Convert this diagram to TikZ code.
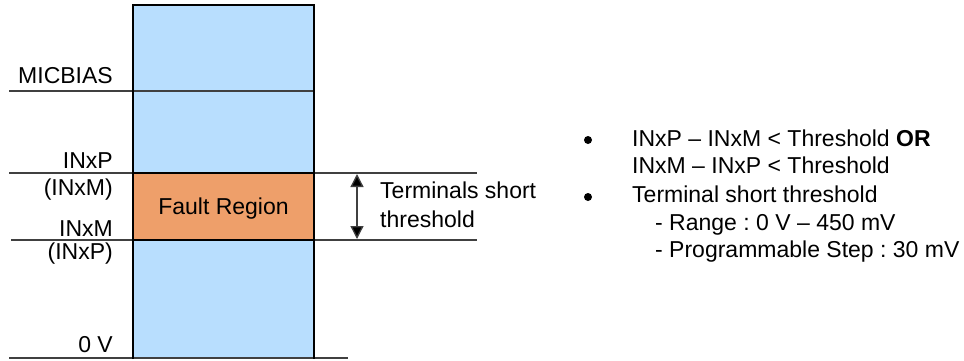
\documentclass[tikz,border=0pt]{standalone}
\usepackage{fontspec}
\setmainfont{Liberation Sans}
\usetikzlibrary{arrows.meta}
\definecolor{colblue}{HTML}{B8DEFE}
\definecolor{faultor}{HTML}{EE9F6A}
\definecolor{linegray}{HTML}{404040}
\begin{document}
\frenchspacing
\begin{tikzpicture}[x=1pt,y=-1pt,
  lbl/.style={font=\fontsize{23}{27}\selectfont, inner sep=0pt, text=black},
  level/.style={draw=linegray, line width=1.5pt},
  colbox/.style={draw=black, line width=2.2pt},
  bul/.style={circle, fill=black, inner sep=0pt, minimum size=8pt}]
\useasboundingbox (0,0) rectangle (964,360);
% column
\fill[colblue] (133,5) rectangle (314,358);
\fill[faultor] (133,173) rectangle (314,240);
% level lines
\coordinate (m1) at (9,91);  \coordinate (m2) at (314,91);
\coordinate (p1) at (9,173); \coordinate (p2) at (477,173);
\coordinate (q1) at (11,240); \coordinate (q2) at (477,240);
\coordinate (z1) at (9,358); \coordinate (z2) at (348,358);
\draw[level] (m1) -- (m2);
\draw[level] (p1) -- (p2);
\draw[level] (q1) -- (q2);
\draw[level] (z1) -- (z2);
\draw[colbox] (133,173) -- (314,173) (133,240) -- (314,240);
\draw[colbox] (133,359) -- (133,5) -- (314,5) -- (314,359);
% arrow
\coordinate (a1) at (357,174);
\coordinate (a2) at (357,239);
\draw[draw=linegray, line width=1.3pt, {Triangle[width=13pt,length=13pt,fill=black]}-{Triangle[width=13pt,length=13pt,fill=black]}] (a1) -- (a2);
% left labels
\node[lbl, anchor=base east] (micbias) at (113,83) {MICBIAS};
\node[lbl, anchor=base east] (inxp) at (113,168) {INxP};
\node[lbl, anchor=base east] (inxmp) at (113,195) {(INxM)};
\node[lbl, anchor=base east] (inxm) at (113,236) {INxM};
\node[lbl, anchor=base east] (inxpp) at (113,259) {(INxP)};
\node[lbl, anchor=base east] (zero) at (113,352) {0 V};
\node[lbl, anchor=base] (fault) at (223.5,214) {Fault Region};
% threshold label
\node[lbl, anchor=base west] (ts1) at (380,198) {Terminals short};
\node[lbl, anchor=base west] (ts2) at (380,227) {threshold};
% right bullets
\node[bul] (b1) at (588,140) {};
\node[bul] (b2) at (588,197) {};
\node[lbl, anchor=base west] (r1) at (632,146) {INxP – INxM < Threshold \textbf{OR}};
\node[lbl, anchor=base west] (r2) at (632,173) {INxM – INxP < Threshold};
\node[lbl, anchor=base west] (r3) at (632,202) {Terminal short threshold};
\node[lbl, anchor=base west] (r4) at (655,230) {- Range : 0 V – 450 mV};
\node[lbl, anchor=base west] (r5) at (655,257) {- Programmable Step : 30 mV};
\end{tikzpicture}
\end{document}
